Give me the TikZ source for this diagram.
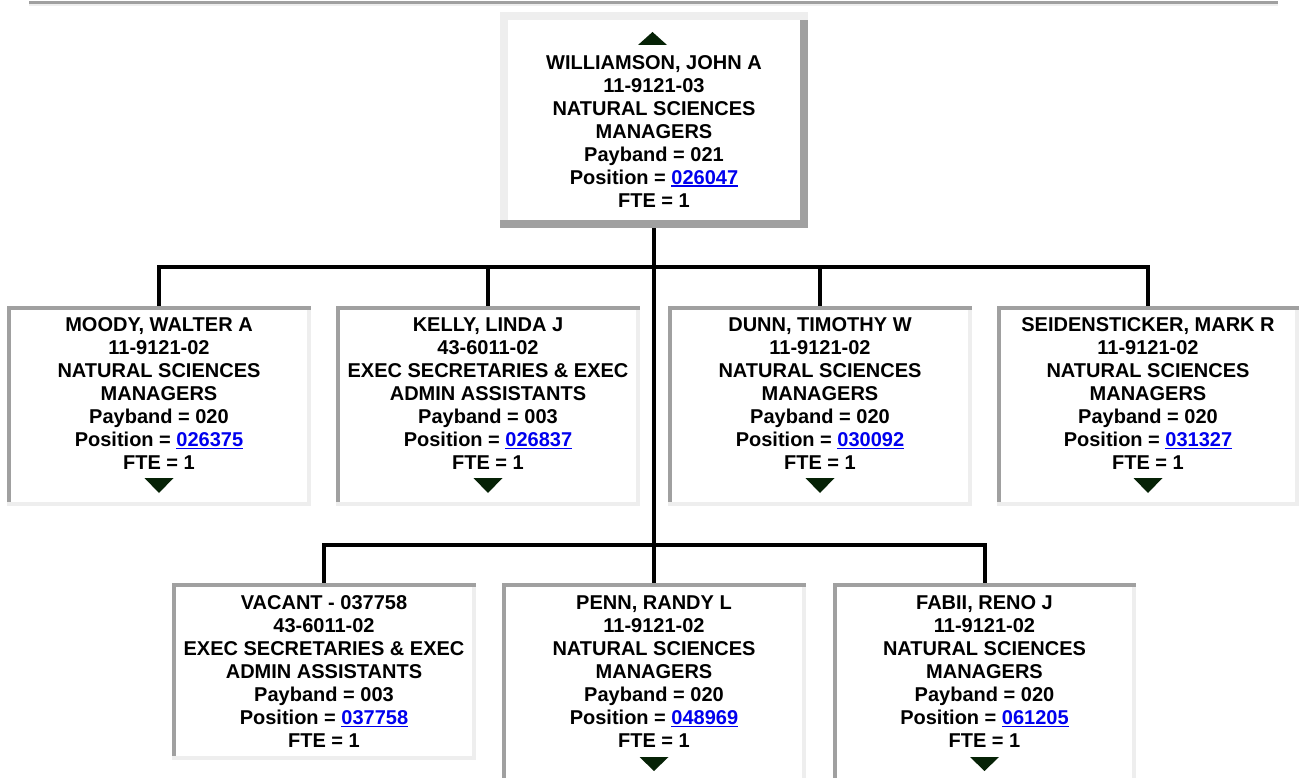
\documentclass[tikz,border=0pt]{standalone}
\usepackage{fontspec}
\setmainfont{Liberation Sans}
\usetikzlibrary{calc}
\definecolor{bdark}{HTML}{A0A0A0}
\definecolor{blight}{HTML}{EEEEEE}
\definecolor{linkblue}{HTML}{0000EE}
\definecolor{tricol}{HTML}{062206}
\newcommand\poslink[1]{{\color{linkblue}\setbox0\hbox{#1}\rlap{\rule[-2.4pt]{\wd0}{1.6pt}}\box0}}
\newcommand\insetborder[1]{%
  \fill[blight] (#1.north west) rectangle (#1.south east);
  \fill[white] ($(#1.north west)+(4,4)$) rectangle ($(#1.south east)+(-4,-4)$);
  \fill[bdark] (#1.north west) rectangle ($(#1.north east)+(0,4)$);
  \fill[bdark] (#1.north west) rectangle ($(#1.south west)+(4,-4)$);}
\newcommand\outsetborder[1]{%
  \fill[bdark] (#1.north west) rectangle (#1.south east);
  \fill[blight] (#1.north west) rectangle ($(#1.north east)+(0,8)$);
  \fill[blight] (#1.north west) rectangle ($(#1.south west)+(8,-8)$);
  \fill[white] ($(#1.north west)+(8,8)$) rectangle ($(#1.south east)+(-8,-8)$);}
\newcommand\downtri[1]{%
  \fill[tricol] ($(#1.south)+(-14.5,-28)$) -- ($(#1.south)+(14.5,-28)$) -- ($(#1.south)+(0,-13)$) -- cycle;}
\begin{document}
\begin{tikzpicture}[x=1pt,y=-1pt,
  box/.style={inner sep=0pt, outer sep=0pt, minimum width=304pt, minimum height=200pt},
  txt/.style={align=center, font=\fontsize{20}{23}\selectfont\bfseries, inner sep=0pt, text=black},
  conn/.style={line width=4pt, black, line join=miter}]
\useasboundingbox (0,0) rectangle (1299,778);
\clip (0,0) rectangle (1299,778);
% top rule
\fill[bdark] (29,1) rectangle (1278,4);
\fill[blight] (29,4) rectangle (1278,6);
% box frames (named nodes)
\node[box, minimum width=308pt, minimum height=216pt] (top) at (654,120) {};
\node[box] (moody) at (159,406) {};
\node[box] (kelly) at (488,406) {};
\node[box] (dunn) at (820,406) {};
\node[box, minimum width=302pt] (seid) at (1148,406) {};
\node[box, minimum height=177pt] (vacant) at (324,671.5) {};
\node[box, minimum height=201pt] (penn) at (654,683.5) {};
\node[box, minimum width=303pt, minimum height=201pt] (fabii) at (984.5,683.5) {};
\coordinate (h1) at (0,267);
\coordinate (h2) at (0,545);
% connectors
\draw[conn] (top.south) -- (penn.north);
\draw[conn] (moody.north) -- (moody.north |- h1) -- (seid.north |- h1) -- (seid.north);
\draw[conn] (kelly.north) -- (kelly.north |- h1);
\draw[conn] (dunn.north) -- (dunn.north |- h1);
\draw[conn] (vacant.north) -- (vacant.north |- h2) -- (fabii.north |- h2) -- (fabii.north);
% frames
\outsetborder{top}
\insetborder{moody}
\insetborder{kelly}
\insetborder{dunn}
\insetborder{seid}
\insetborder{vacant}
\insetborder{penn}
\insetborder{fabii}
% triangles
\fill[tricol] ($(top.north)+(-16,33)$) -- ($(top.north)+(13,33)$) -- ($(top.north)+(-1.5,20)$) -- cycle;
\downtri{moody}
\downtri{kelly}
\downtri{dunn}
\downtri{seid}
\fill[tricol] ($(penn.south)+(-14.5,-27)$) -- ($(penn.south)+(14.5,-27)$) -- ($(penn.south)+(0,-13)$) -- cycle;
\fill[tricol] ($(fabii.south)+(-14.5,-27)$) -- ($(fabii.south)+(14.5,-27)$) -- ($(fabii.south)+(0,-13)$) -- cycle;
% texts
\node[txt] (top-t) at (654,131.5) {WILLIAMSON, JOHN A\\11-9121-03\\NATURAL SCIENCES\\MANAGERS\\Payband = 021\\Position = \poslink{026047}\\FTE = 1};
\node[txt] (moody-t) at (159,394) {MOODY, WALTER A\\11-9121-02\\NATURAL SCIENCES\\MANAGERS\\Payband = 020\\Position = \poslink{026375}\\FTE = 1};
\node[txt] (kelly-t) at (488,394) {KELLY, LINDA J\\43-6011-02\\EXEC SECRETARIES \& EXEC\\ADMIN ASSISTANTS\\Payband = 003\\Position = \poslink{026837}\\FTE = 1};
\node[txt] (dunn-t) at (820,394) {DUNN, TIMOTHY W\\11-9121-02\\NATURAL SCIENCES\\MANAGERS\\Payband = 020\\Position = \poslink{030092}\\FTE = 1};
\node[txt] (seid-t) at (1148,394) {SEIDENSTICKER, MARK R\\11-9121-02\\NATURAL SCIENCES\\MANAGERS\\Payband = 020\\Position = \poslink{031327}\\FTE = 1};
\node[txt] (vacant-t) at (324,672) {VACANT - 037758\\43-6011-02\\EXEC SECRETARIES \& EXEC\\ADMIN ASSISTANTS\\Payband = 003\\Position = \poslink{037758}\\FTE = 1};
\node[txt] (penn-t) at (654,672) {PENN, RANDY L\\11-9121-02\\NATURAL SCIENCES\\MANAGERS\\Payband = 020\\Position = \poslink{048969}\\FTE = 1};
\node[txt] (fabii-t) at (984.5,672) {FABII, RENO J\\11-9121-02\\NATURAL SCIENCES\\MANAGERS\\Payband = 020\\Position = \poslink{061205}\\FTE = 1};
\end{tikzpicture}
\end{document}
